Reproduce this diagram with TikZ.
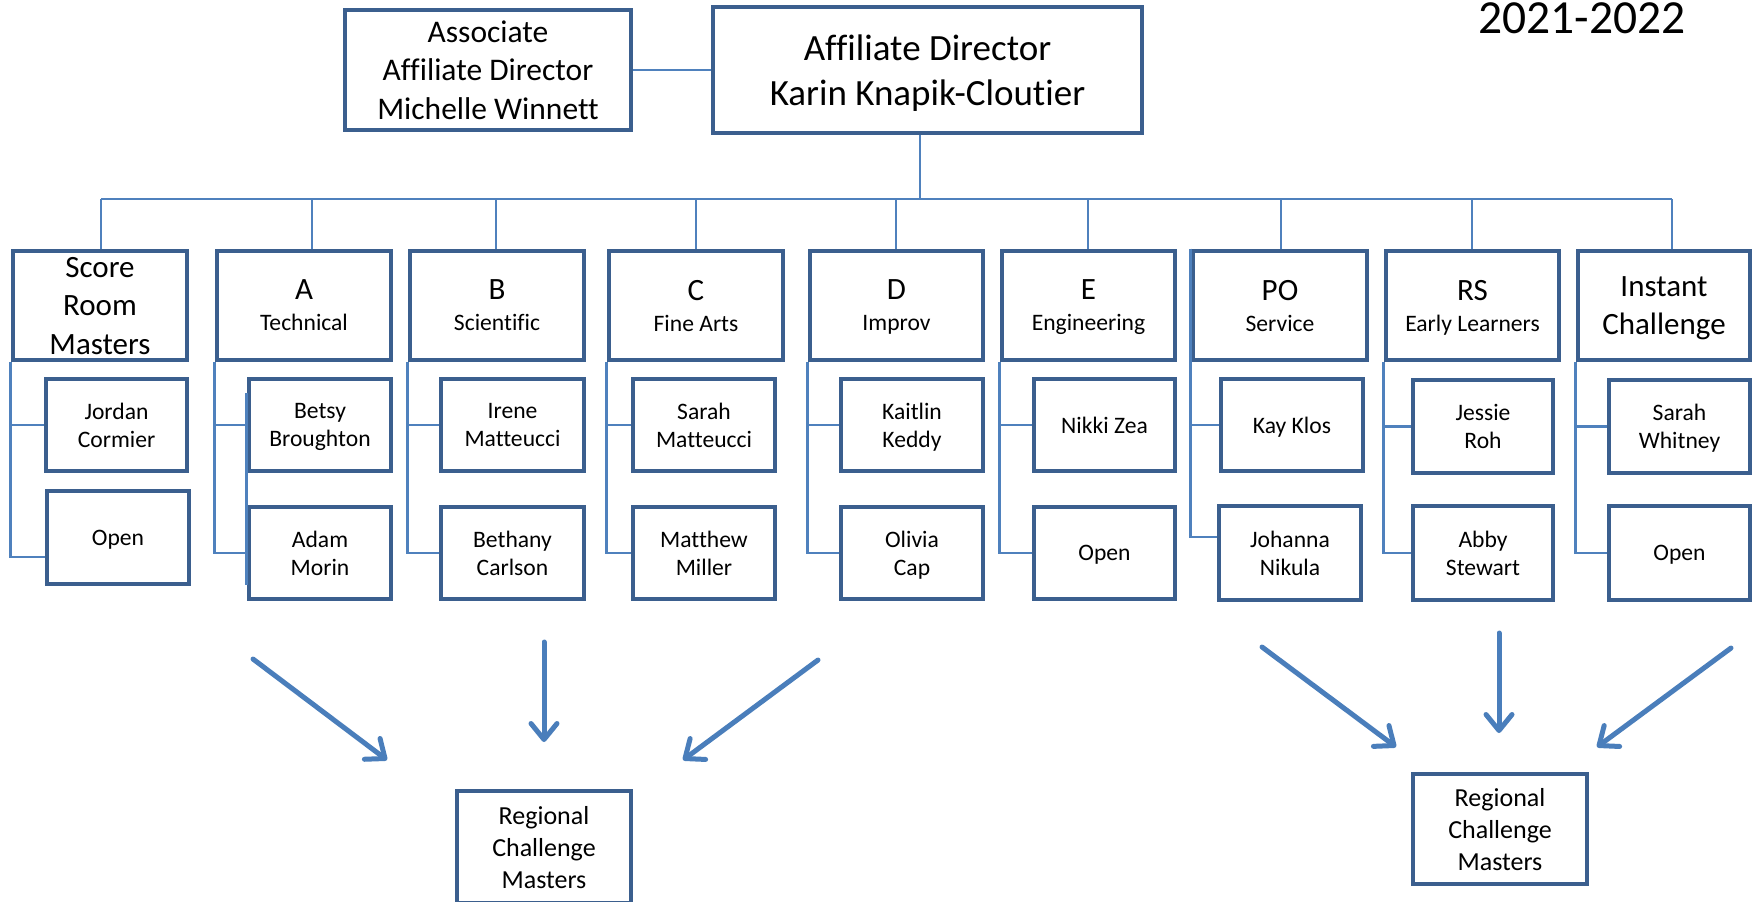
\documentclass[tikz,border=0pt]{standalone}
\usepackage{fontspec}
\setmainfont{Carlito}[Ligatures={NoCommon}]
\usetikzlibrary{arrows.meta}
\definecolor{boxblue}{HTML}{3B5F8E}
\definecolor{linkblue}{HTML}{4F81BD}
\definecolor{arrowblue}{HTML}{4A7EBB}
\tikzset{
  box/.style={draw=boxblue, line width=2.3pt, rectangle, inner sep=0pt, align=center, fill=white, text depth=0pt},
  conn/.style={draw=linkblue, line width=1.25pt},
  bigarrow/.style={draw=arrowblue, line width=2.5pt, line cap=round,
    -{Straight Barb[length=8pt,width=13pt,line cap=round,line join=round]}},
  child/.style={box, font=\fontsize{11.8}{14.15}\selectfont},
  group/.style={box, font=\fontsize{11.8}{15.5}\selectfont},
  biggroup/.style={box, font=\fontsize{15.5}{19.25}\selectfont},
  regional/.style={box, font=\fontsize{13}{16}\selectfont},
}
\newcommand\grp[1]{{\fontsize{15.5}{15.5}\selectfont #1}}
\newcommand\bx[7]{\node[#1, minimum width={(#4-#3-4)*0.5pt}, minimum height={(#6-#5-4)*0.5pt}] (#2) at ({(#3+#4)/2},{(#5+#6)/2}) {#7};}
\begin{document}
\begin{tikzpicture}[x=0.5pt,y=-0.5pt]
\useasboundingbox (0,0) rectangle (1760,901);
\clip (0,0) rectangle (1760,901);

% title
\node[anchor=base, font=\fontsize{23.75}{28}\selectfont] (year) at (1582,33) {2021-2022};

% top boxes
\bx{box, font=\fontsize{15.75}{19.25}\selectfont}{assoc}{343}{633}{8}{132}{Associate\\Affiliate Director\\Michelle Winnett}
\bx{box, font=\fontsize{18.5}{22.5}\selectfont}{dir}{711}{1144}{5}{135}{Affiliate Director\\Karin Knapik-Cloutier}

% group boxes
\bx{biggroup}{srm}{11}{189}{249}{362}{Score\\Room\\Masters}
\bx{group}{ga}{215}{393}{249}{362}{\grp{A}\\Technical}
\bx{group}{gb}{408}{586}{249}{362}{\grp{B}\\Scientific}
\bx{group}{gc}{607}{785}{249}{362}{\grp{C}\\Fine Arts}
\bx{group}{gd}{808}{985}{249}{362}{\grp{D}\\Improv}
\bx{group}{ge}{1000}{1177}{249}{362}{\grp{E}\\Engineering}
\bx{group}{gpo}{1191}{1369}{249}{362}{\grp{PO}\\Service}
\bx{group}{grs}{1384}{1561}{249}{362}{\grp{RS}\\Early Learners}
\bx{biggroup}{gic}{1576}{1752}{249}{362}{Instant\\Challenge}

% child boxes
\bx{child}{jordan}{44}{189}{377}{473}{Jordan\\Cormier}
\bx{child}{srmopen}{45}{191}{489}{586}{Open}
\bx{child}{betsy}{247}{393}{377}{473}{Betsy\\Broughton}
\bx{child}{adam}{247}{393}{505}{601}{Adam\\Morin}
\bx{child}{irene}{439}{586}{377}{473}{Irene\\Matteucci}
\bx{child}{bethany}{439}{586}{505}{601}{Bethany\\Carlson}
\bx{child}{sarahm}{631}{777}{377}{473}{Sarah\\Matteucci}
\bx{child}{matthew}{631}{777}{505}{601}{Matthew\\Miller}
\bx{child}{kaitlin}{839}{985}{377}{473}{Kaitlin\\Keddy}
\bx{child}{olivia}{839}{985}{505}{601}{Olivia\\Cap}
\bx{child}{nikki}{1032}{1177}{377}{473}{Nikki Zea}
\bx{child}{eopen}{1032}{1177}{505}{601}{Open}
\bx{child}{kay}{1219}{1365}{377}{473}{Kay Klos}
\bx{child}{johanna}{1217}{1363}{504}{602}{Johanna\\Nikula}
\bx{child}{jessie}{1411}{1555}{378}{475}{Jessie\\Roh}
\bx{child}{abby}{1411}{1555}{504}{602}{Abby\\Stewart}
\bx{child}{sarahw}{1607}{1752}{378}{475}{Sarah\\Whitney}
\bx{child}{icopen}{1607}{1752}{504}{602}{Open}

% regional boxes
\bx{regional}{regl}{455}{633}{789}{905}{Regional\\Challenge\\Masters}
\bx{regional}{regr}{1411}{1589}{772}{886}{Regional\\Challenge\\Masters}

% top connectors
\draw[conn] (assoc.east) -- (dir.west);
\coordinate (barL) at (101,199);
\coordinate (barR) at (1672,199);
\coordinate (dirdrop) at (920,199);
\draw[conn] (barL) -- (barR);
\draw[conn] (dirdrop |- dir.south) -- (dirdrop);
\foreach \g/\xx in {srm/101, ga/312, gb/496, gc/696, gd/896, ge/1088, gpo/1281, grs/1472, gic/1672}{
  \coordinate (drop\g) at (\xx,199);
  \draw[conn] (drop\g) -- (drop\g |- \g.north);
}

% left connectors
\draw[conn] (srm.south west) |- (jordan.west);
\draw[conn] (srm.south west) |- ([yshift=-9.75pt]srmopen.west);
\draw[conn] (ga.south west) |- (betsy.west);
\draw[conn] (ga.south west) |- (adam.west);
\draw[conn] ([yshift=16pt]betsy.west) -- ([yshift=8pt]adam.south west);
\draw[conn] (gb.south west) |- (irene.west);
\draw[conn] (gb.south west) |- (bethany.west);
\draw[conn] (gc.south west) |- (sarahm.west);
\draw[conn] (gc.south west) |- (matthew.west);
\draw[conn] (gd.south west) |- (kaitlin.west);
\draw[conn] (gd.south west) |- (olivia.west);
\draw[conn] (ge.south west) |- (nikki.west);
\draw[conn] (ge.south west) |- (eopen.west);
\draw[conn] (gpo.north west) |- (kay.west);
\draw[conn] (gpo.north west) |- ([yshift=8pt]johanna.west);
\draw[conn] (grs.south west) |- (jessie.west);
\draw[conn] (grs.south west) |- (abby.west);
\draw[conn] (gic.south west) |- (sarahw.west);
\draw[conn] (gic.south west) |- (icopen.west);

% arrows
\coordinate (a1s) at (253,659); \coordinate (a1e) at (387,760);
\coordinate (a2s) at (544,642); \coordinate (a2e) at (544,742);
\coordinate (a3s) at (818,660); \coordinate (a3e) at (683,760);
\coordinate (b1s) at (1262,647); \coordinate (b1e) at (1396,747);
\coordinate (b2s) at (1499,633); \coordinate (b2e) at (1499,733);
\coordinate (b3s) at (1731,648); \coordinate (b3e) at (1597,747);
\draw[bigarrow] (a1s) -- (a1e);
\draw[bigarrow] (a2s) -- (a2e);
\draw[bigarrow] (a3s) -- (a3e);
\draw[bigarrow] (b1s) -- (b1e);
\draw[bigarrow] (b2s) -- (b2e);
\draw[bigarrow] (b3s) -- (b3e);
\end{tikzpicture}
\end{document}
